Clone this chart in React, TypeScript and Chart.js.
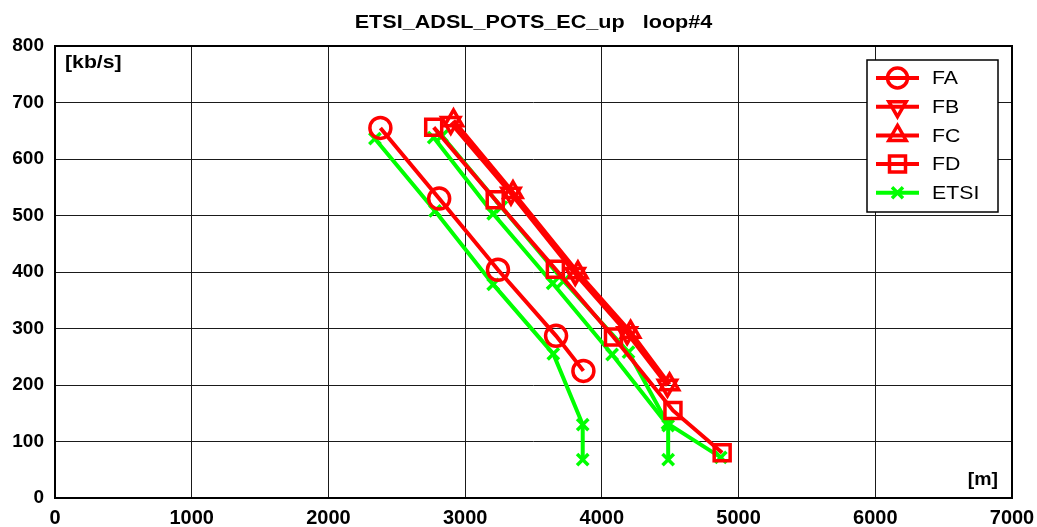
import React, { useEffect, useRef } from "react";
import { Chart, registerables } from "chart.js";

Chart.register(...registerables);

// ---- data (distance [m], rate [kb/s]) ----
const FA_m = [2380, 2810, 3240, 3665, 3865];
const FA_kbps = [655, 530, 404, 287, 225];

const FB_m = [2895, 3335, 3805, 4185, 4480];
const FB_kbps = [664, 539, 397, 292, 199];

const FC_m = [2915, 3350, 3825, 4210, 4495];
const FC_kbps = [668, 541, 399, 294, 201];

const FD_m = [2770, 3220, 3660, 4085, 4520, 4880];
const FD_kbps = [656, 528, 405, 285, 155, 80];

const ETSI1_m = [2340, 2780, 3205, 3645, 3860, 3860];
const ETSI1_kbps = [636, 508, 378, 255, 130, 68];

const ETSI2_m = [2770, 3205, 3640, 4075, 4485, 4485];
const ETSI2_kbps = [638, 503, 380, 254, 128, 68];

const ETSI3_m = [2830, 3265, 3720, 4195, 4480, 4870];
const ETSI3_kbps = [641, 515, 384, 258, 132, 72];

const X_MIN = 0, X_MAX = 7000, X_STEP = 1000;
const Y_MIN = 0, Y_MAX = 800, Y_STEP = 100;

const TITLE = "ETSI_ADSL_POTS_EC_up   loop#4";
const Y_UNIT = "[kb/s]";
const X_UNIT = "[m]";
const LEGEND_LABELS = ["FA", "FB", "FC", "FD", "ETSI"];

const RED = "#ff0000";
const GREEN = "#00ff00";
const FONT = "Liberation Sans, Arial, sans-serif";

const pts = (xs: number[], ys: number[]) => xs.map((x, i) => ({ x, y: ys[i] }));

type Mk = "circle" | "down" | "up" | "rect" | "x";

function drawMarker(ctx: CanvasRenderingContext2D, kind: Mk, x: number, y: number) {
  ctx.beginPath();
  if (kind === "circle") {
    ctx.arc(x, y, 10, 0, Math.PI * 2);
  } else if (kind === "up" || kind === "down") {
    const r = 10;
    const s = kind === "up" ? -1 : 1;
    ctx.moveTo(x, y + s * r);
    ctx.lineTo(x + r * 0.866, y - s * r * 0.5);
    ctx.lineTo(x - r * 0.866, y - s * r * 0.5);
    ctx.closePath();
  } else if (kind === "rect") {
    ctx.rect(x - 8, y - 8, 16, 16);
  } else {
    const r = 5.5;
    ctx.moveTo(x - r, y - r);
    ctx.lineTo(x + r, y + r);
    ctx.moveTo(x + r, y - r);
    ctx.lineTo(x - r, y + r);
  }
  ctx.stroke();
}

function stretchedText(ctx: CanvasRenderingContext2D, text: string, x: number, y: number, sx: number, align: "left" | "center" | "right") {
  ctx.save();
  ctx.translate(x, y);
  ctx.scale(sx, 1);
  ctx.textAlign = align;
  ctx.fillText(text, 0, 0);
  ctx.restore();
}

const overlay = {
  id: "overlay",
  afterDraw(chart: any) {
    const ctx: CanvasRenderingContext2D = chart.ctx;
    const { left, top, right, bottom } = chart.chartArea;
    ctx.save();
    // frame
    ctx.strokeStyle = "#000";
    ctx.lineWidth = 2;
    ctx.strokeRect(left, top, right - left, bottom - top);
    // title
    ctx.fillStyle = "#000";
    ctx.textBaseline = "middle";
    ctx.font = `bold 18px ${FONT}`;
    stretchedText(ctx, TITLE, (left + right) / 2, 23, 1.2, "center");
    // units
    ctx.font = `bold 18px ${FONT}`;
    stretchedText(ctx, Y_UNIT, left + 10, top + 17, 1.18, "left");
    stretchedText(ctx, X_UNIT, right - 14, bottom - 18, 1.08, "right");
    // legend
    const bx = 867, by = 60, bw = 131, bh = 152;
    ctx.fillStyle = "#fff";
    ctx.fillRect(bx, by, bw, bh);
    ctx.strokeStyle = "#000";
    ctx.lineWidth = 1.5;
    ctx.strokeRect(bx, by, bw, bh);
    const kinds: Mk[] = ["circle", "down", "up", "rect", "x"];
    LEGEND_LABELS.forEach((lab, i) => {
      const y = 78 + i * 28.7;
      const col = i === 4 ? GREEN : RED;
      ctx.strokeStyle = col;
      ctx.lineWidth = 4;
      ctx.beginPath();
      ctx.moveTo(876, y);
      ctx.lineTo(919, y);
      ctx.stroke();
      ctx.lineWidth = 3.5;
      drawMarker(ctx, kinds[i], 897.5, y);
      ctx.fillStyle = "#000";
      ctx.font = `19px ${FONT}`;
      ctx.textBaseline = "middle";
      stretchedText(ctx, lab, 932, y + 1, 1.12, "left");
    });
    ctx.restore();
  },
};

export default function App() {
  const ref = useRef<HTMLCanvasElement | null>(null);
  useEffect(() => {
    if (!ref.current) return;
    const common = { showLine: true, borderWidth: 4, pointBorderWidth: 3.5, pointBackgroundColor: "rgba(0,0,0,0)", fill: false };
    const red = { ...common, borderColor: RED, pointBorderColor: RED };
    const green = { ...common, borderColor: GREEN, pointBorderColor: GREEN, pointStyle: "crossRot", pointRadius: 8, pointBorderWidth: 3.5 };
    const chart = new Chart(ref.current, {
      type: "scatter",
      data: {
        datasets: [
          { ...red, label: "FA", data: pts(FA_m, FA_kbps), pointStyle: "circle", pointRadius: 10.5 },
          { ...red, label: "FB", data: pts(FB_m, FB_kbps), pointStyle: "triangle", pointRotation: 180, pointRadius: 10.5 },
          { ...red, label: "FC", data: pts(FC_m, FC_kbps), pointStyle: "triangle", pointRadius: 10.5 },
          { ...red, label: "FD", data: pts(FD_m, FD_kbps), pointStyle: "rect", pointRadius: 11.3 },
          { ...green, label: "ETSI", data: pts(ETSI1_m, ETSI1_kbps) },
          { ...green, label: "ETSI", data: pts(ETSI2_m, ETSI2_kbps) },
          { ...green, label: "ETSI", data: pts(ETSI3_m, ETSI3_kbps) },
        ] as any,
      },
      options: {
        animation: false,
        responsive: false,
        devicePixelRatio: 1,
        layout: { padding: { top: 46, right: 25, left: 0, bottom: 0 } },
        plugins: { legend: { display: false }, title: { display: false }, tooltip: { enabled: false } },
        elements: { line: { tension: 0 } },
        scales: {
          x: {
            type: "linear",
            min: X_MIN,
            max: X_MAX,
            afterFit: (s: any) => { s.height = 29; s.paddingLeft = 0; s.paddingRight = 0; },
            ticks: { stepSize: X_STEP, color: "#000", padding: 8, maxRotation: 0, callback: (v: any) => String(v), font: { family: FONT, size: 20, weight: "bold" } },
            grid: { color: "#1a1a1a", lineWidth: 1, drawTicks: false },
            border: { display: false },
          },
          y: {
            type: "linear",
            min: Y_MIN,
            max: Y_MAX,
            afterFit: (s: any) => { s.width = 55; s.paddingTop = 0; s.paddingBottom = 0; },
            ticks: { stepSize: Y_STEP, color: "#000", padding: 11, callback: (v: any) => String(v), font: { family: FONT, size: 19, weight: "bold" } },
            grid: { color: "#1a1a1a", lineWidth: 1, drawTicks: false },
            border: { display: false },
          },
        },
      } as any,
      plugins: [overlay],
    });
    return () => chart.destroy();
  }, []);
  return (
    <div style={{ position: "fixed", left: 0, top: 0, width: 1037, height: 527, background: "#fff" }}>
      <canvas ref={ref} width={1037} height={527} style={{ display: "block" }} />
    </div>
  );
}
